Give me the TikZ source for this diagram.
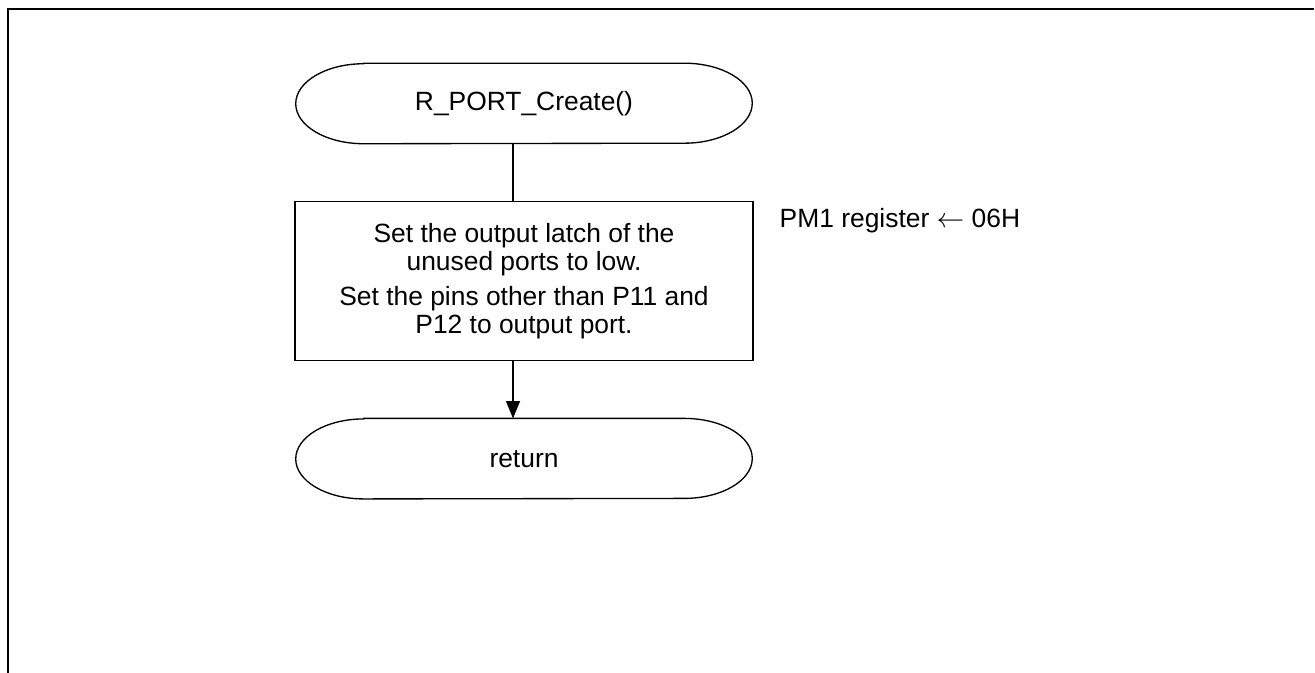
\documentclass[tikz,border=0pt]{standalone}
\usepackage{fontspec}
\setmainfont{Liberation Sans}
\usetikzlibrary{positioning}
\usetikzlibrary{arrows.meta}
\tikzset{
    node distance=43pt,
    every node/.append style={
        font=\fontsize{19.8pt}{21pt}\selectfont
    },
    terminal/.style={
        minimum width=342pt,
        minimum height=60pt,
        inner sep=0pt
    },
    process/.style={
        draw,
        line width=1pt,
        minimum width=343.5pt,
        minimum height=119.25pt,
        align=center,
        inner sep=0pt
    },
    flow/.style={
        line width=1pt,
        -{Triangle[width=10.5pt,length=13pt]}
    }
}

\begin{document}
\begin{tikzpicture}
                \useasboundingbox (0,0) rectangle (986.25pt,-504.75pt);
                % frame
                \draw[line width=1.9pt] (6pt,-504.75pt) -- (6pt,-6.75pt) -- (985.5pt,-6.75pt);
                \node[terminal] (start) at (393pt,-77.6pt) {R\_PORT\_Create()};
                \node[process, below=of start] (init) {Set the output latch of the\\
                    unused ports to low.\\[5pt]
                    Set the pins other than P11 and\\
                    P12 to output port.};
                \node[terminal, below=42.75pt of init] (stop) {return};
                \node[anchor=base west] (note) at ([xshift=16pt,yshift=-20pt]init.north east) {PM1 register $\leftarrow$ 06H};
                % terminal outlines
                \foreach \n in {start, stop}
                    \draw[line width=1pt] ([xshift=51pt]\n.north west) -- ([xshift=-51pt]\n.north east)
                        arc[start angle=90, end angle=-90, x radius=51pt, y radius=30pt]
                        -- ([xshift=51pt]\n.south west)
                        arc[start angle=270, end angle=90, x radius=51pt, y radius=30pt] -- cycle;
                \draw[line width=1pt] ([xshift=-8.25pt]start.south) -- ([xshift=-8.25pt]init.north);
                \draw[flow] ([xshift=-8.25pt]init.south) -- ([xshift=-8.25pt]stop.north);
            \end{tikzpicture}
\end{document}
